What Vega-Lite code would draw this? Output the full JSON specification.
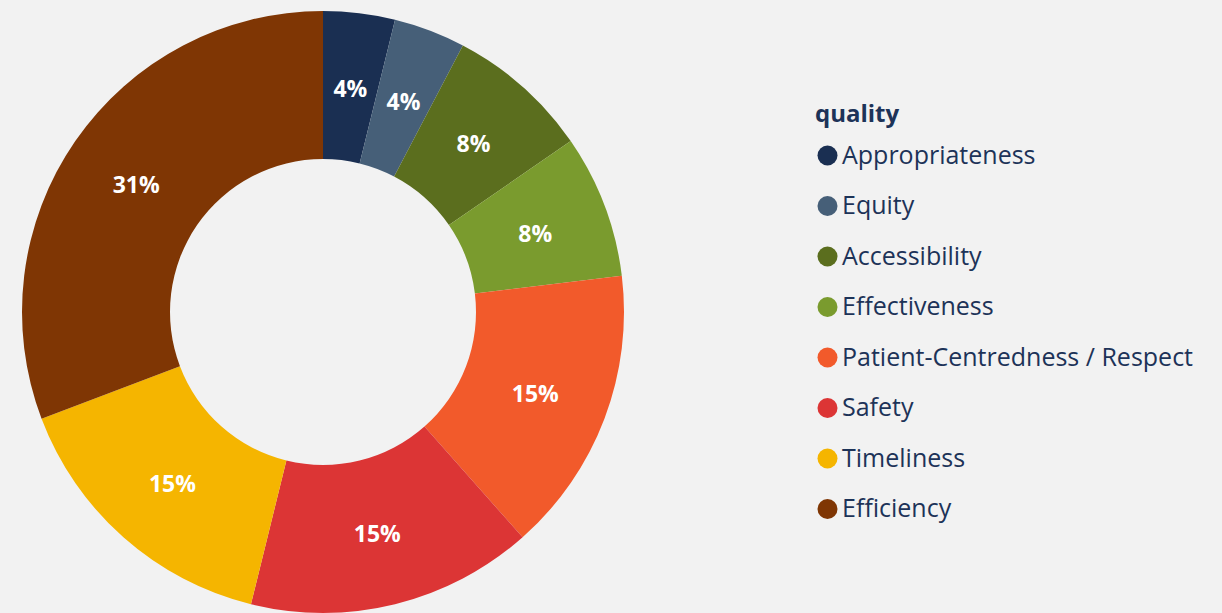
{
  "$schema": "https://vega.github.io/schema/vega-lite/v6.json",
  "width": 646,
  "height": 624,
  "padding": {"left": 0, "top": 0, "right": 40, "bottom": 0},
  "background": "#f2f2f2",
  "config": {"view": {"stroke": null}, "font": "Open Sans"},
  "data": {"values": [
    {"quality": "Appropriateness", "count": 1, "idx": 1, "pct": "4%"},
    {"quality": "Equity", "count": 1, "idx": 2, "pct": "4%"},
    {"quality": "Accessibility", "count": 2, "idx": 3, "pct": "8%"},
    {"quality": "Effectiveness", "count": 2, "idx": 4, "pct": "8%"},
    {"quality": "Patient-Centredness / Respect", "count": 4, "idx": 5, "pct": "15%"},
    {"quality": "Safety", "count": 4, "idx": 6, "pct": "15%"},
    {"quality": "Timeliness", "count": 4, "idx": 7, "pct": "15%"},
    {"quality": "Efficiency", "count": 8, "idx": 8, "pct": "31%"}
  ]},
  "encoding": {
    "theta": {"field": "count", "type": "quantitative", "stack": true},
    "order": {"field": "idx", "type": "quantitative"},
    "color": {
      "field": "quality", "type": "nominal",
      "scale": {
        "domain": ["Appropriateness", "Equity", "Accessibility", "Effectiveness", "Patient-Centredness / Respect", "Safety", "Timeliness", "Efficiency"],
        "range": ["#1a2f52", "#465f78", "#5b6e1e", "#7a9b2e", "#f25a2b", "#dc3535", "#f5b500", "#7f3604"]
      },
      "legend": {
        "orient": "none", "legendX": 815, "legendY": 103,
        "title": "quality", "titleFontSize": 24, "titleFontWeight": "bold", "titleColor": "#1d3358",
        "titlePadding": 16,
        "labelFontSize": 25, "labelColor": "#1d3358", "labelOffset": 2, "labelLimit": 500,
        "symbolType": "circle", "symbolSize": 400, "symbolStrokeWidth": 0, "symbolOpacity": 1,
        "rowPadding": 24.5
      }
    }
  },
  "layer": [
    {"mark": {"type": "arc", "outerRadius": 301, "innerRadius": 153}},
    {"mark": {"type": "text", "radius": 227, "fontSize": 23, "fontWeight": "bold", "fill": "white", "dy": 3},
     "encoding": {"text": {"field": "pct"}, "color": {"value": "white"}}}
  ]
}
